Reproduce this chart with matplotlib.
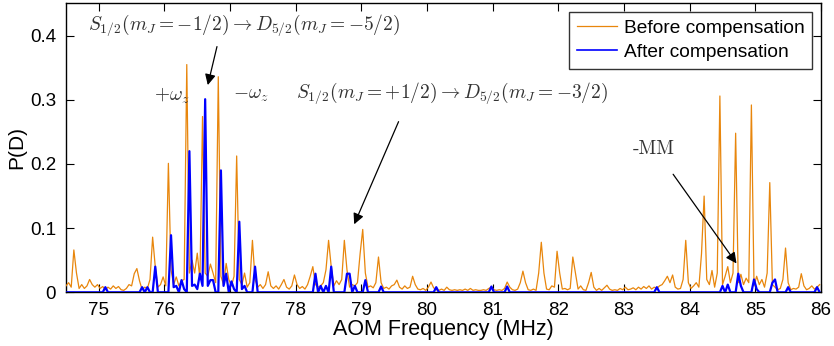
import numpy as np
import matplotlib
matplotlib.use("Agg")
import matplotlib.pyplot as plt

# Scan grid: 74.50 MHz to 85.98 MHz in 0.04 MHz steps (288 points)
f_start, f_step = 74.50, 0.04

# P(D) before compensation, one row per MHz (row starts at X.50)
before_rows = [
    # 74.50 .. 75.46
    [0.010, 0.015, 0.008, 0.066, 0.030, 0.006, 0.012, 0.006, 0.010, 0.020, 0.012, 0.008, 0.012,
     0.006, 0.009, 0.004, 0.008, 0.005, 0.010, 0.006, 0.009, 0.004, 0.003, 0.006, 0.012],
    # 75.50 .. 76.46
    [0.010, 0.029, 0.037, 0.018, 0.004, 0.008, 0.006, 0.020, 0.086, 0.040, 0.008, 0.012, 0.024,
     0.010, 0.201, 0.035, 0.012, 0.024, 0.010, 0.018, 0.020, 0.355, 0.030, 0.050, 0.030],
    # 76.50 .. 77.46
    [0.061, 0.020, 0.274, 0.030, 0.025, 0.044, 0.030, 0.015, 0.336, 0.025, 0.012, 0.045, 0.020,
     0.010, 0.025, 0.2125, 0.020, 0.012, 0.030, 0.008, 0.015, 0.081, 0.020, 0.008, 0.012],
    # 77.50 .. 78.46
    [0.006, 0.012, 0.032, 0.010, 0.006, 0.010, 0.005, 0.012, 0.020, 0.008, 0.005, 0.010, 0.027,
     0.012, 0.006, 0.009, 0.005, 0.012, 0.025, 0.040, 0.012, 0.008, 0.010, 0.015, 0.035],
    # 78.50 .. 79.46
    [0.081, 0.040, 0.010, 0.018, 0.012, 0.020, 0.081, 0.035, 0.008, 0.012, 0.010, 0.015, 0.060,
     0.098, 0.030, 0.008, 0.010, 0.007, 0.015, 0.055, 0.015, 0.006, 0.008, 0.005, 0.010],
    # 79.50 .. 80.46
    [0.012, 0.019, 0.008, 0.005, 0.010, 0.006, 0.008, 0.025, 0.012, 0.005, 0.004, 0.006, 0.003,
     0.008, 0.016, 0.007, 0.004, 0.003, 0.005, 0.003, 0.008, 0.004, 0.003, 0.004, 0.003],
    # 80.50 .. 81.46
    [0.004, 0.003, 0.005, 0.003, 0.006, 0.003, 0.004, 0.003, 0.003, 0.004, 0.003, 0.006, 0.008,
     0.004, 0.003, 0.004, 0.003, 0.006, 0.016, 0.008, 0.004, 0.003, 0.005, 0.015, 0.033],
    # 81.50 .. 82.46
    [0.015, 0.004, 0.003, 0.005, 0.003, 0.030, 0.078, 0.030, 0.005, 0.004, 0.010, 0.008, 0.064,
     0.030, 0.005, 0.006, 0.004, 0.006, 0.055, 0.030, 0.005, 0.010, 0.004, 0.003, 0.015],
    # 82.50 .. 83.46
    [0.031, 0.008, 0.003, 0.006, 0.003, 0.007, 0.011, 0.005, 0.003, 0.004, 0.003, 0.006, 0.004,
     0.008, 0.004, 0.005, 0.007, 0.004, 0.008, 0.005, 0.009, 0.006, 0.010, 0.005, 0.008],
    # 83.50 .. 84.46
    [0.006, 0.010, 0.012, 0.018, 0.025, 0.015, 0.027, 0.008, 0.005, 0.006, 0.020, 0.081, 0.015,
     0.006, 0.010, 0.015, 0.008, 0.060, 0.150, 0.020, 0.012, 0.034, 0.008, 0.030, 0.306],
    # 84.50 .. 85.46
    [0.012, 0.025, 0.040, 0.015, 0.030, 0.248, 0.015, 0.028, 0.012, 0.022, 0.015, 0.292, 0.010,
     0.025, 0.012, 0.020, 0.008, 0.030, 0.171, 0.012, 0.008, 0.004, 0.006, 0.020, 0.069],
    # 85.50 .. 85.98
    [0.015, 0.004, 0.006, 0.005, 0.008, 0.029, 0.010, 0.004, 0.006, 0.010, 0.005, 0.008, 0.012],
]

# P(D) after compensation, same grid
after_rows = [
    [0, 0, 0, 0, 0, 0, 0, 0, 0, 0, 0, 0, 0, 0, 0, 0.008, 0, 0, 0, 0, 0, 0, 0, 0, 0],
    [0, 0, 0, 0, 0.008, 0, 0.008, 0, 0, 0.040, 0, 0, 0, 0, 0, 0.089, 0.008, 0.010, 0, 0.019,
     0.005, 0, 0.220, 0.010, 0.012],
    [0.005, 0.029, 0.010, 0.301, 0.010, 0.019, 0.019, 0, 0, 0.190, 0.010, 0.029, 0, 0.017,
     0.005, 0, 0.110, 0.005, 0.010, 0, 0, 0, 0.040, 0, 0],
    [0, 0, 0, 0, 0, 0, 0, 0, 0, 0, 0, 0, 0, 0, 0, 0, 0, 0, 0, 0, 0.029, 0, 0.010, 0, 0.010],
    [0, 0.040, 0, 0, 0, 0, 0, 0.029, 0.029, 0, 0.010, 0, 0, 0, 0.019, 0, 0, 0, 0, 0, 0.009,
     0, 0, 0, 0],
    [0, 0, 0, 0, 0, 0, 0, 0, 0, 0, 0, 0, 0, 0, 0, 0, 0.008, 0, 0, 0, 0, 0, 0, 0, 0],
    [0, 0, 0, 0, 0, 0, 0, 0, 0, 0, 0, 0, 0.009, 0, 0, 0, 0, 0, 0.009, 0, 0, 0, 0, 0, 0],
    [0, 0, 0, 0, 0, 0, 0, 0, 0, 0, 0, 0, 0, 0, 0, 0, 0, 0, 0, 0, 0, 0, 0, 0, 0],
    [0, 0, 0, 0, 0, 0, 0, 0, 0, 0, 0, 0, 0, 0, 0, 0, 0, 0, 0, 0, 0, 0, 0, 0, 0],
    [0.008, 0, 0, 0, 0, 0, 0, 0, 0, 0, 0, 0, 0, 0, 0, 0, 0, 0, 0, 0, 0, 0, 0, 0, 0],
    [0.010, 0, 0.012, 0, 0, 0, 0.029, 0.010, 0, 0, 0, 0, 0.020, 0.005, 0, 0, 0, 0, 0, 0.015,
     0.020, 0, 0, 0, 0],
    [0.008, 0, 0, 0, 0, 0, 0, 0, 0, 0, 0, 0.008, 0],
]

x_ticks = [75, 76, 77, 78, 79, 80, 81, 82, 83, 84, 85, 86]
y_ticks = [0, 0.1, 0.2, 0.3, 0.4]
y_ticklabels = ["0", "0.1", "0.2", "0.3", "0.4"]

before = np.concatenate([np.array(r, float) for r in before_rows])
after = np.concatenate([np.array(r, float) for r in after_rows])
freq = f_start + f_step * np.arange(len(before))

plt.rcParams['font.family'] = ['Liberation Sans', 'DejaVu Sans']
plt.rcParams['mathtext.fontset'] = 'cm'

fig = plt.figure(figsize=(8.34, 3.46), dpi=100)
ax = fig.add_axes([0.0791, 0.1552, 0.9053, 0.8353])

orange = '#E8860C'
ax.plot(freq, before, color=orange, lw=0.9, label='Before compensation', zorder=3)
ax.plot(freq, after, color='#0000FF', lw=1.6, label='After compensation', zorder=4)

ax.set_xlim(74.5, 86.0)
ax.set_ylim(0, 0.4505)
ax.set_xticks(x_ticks)
ax.set_xticklabels([str(t) for t in x_ticks])
ax.set_yticks(y_ticks)
ax.set_yticklabels(y_ticklabels)
ax.tick_params(direction='in', length=6, width=0.8, top=True, right=True,
               labelsize=13.5, pad=7)
for s in ax.spines.values():
    s.set_linewidth(1.0)
ax.set_xlabel('AOM Frequency (MHz)', fontsize=15.5, labelpad=0)
ax.set_ylabel('P(D)', fontsize=15, labelpad=3)

leg = ax.legend(loc='upper right', fontsize=13.8, frameon=True, fancybox=False,
                edgecolor='black', borderpad=0.4, handlelength=2.1,
                handletextpad=0.35, labelspacing=0.35, borderaxespad=0.45)
leg.get_frame().set_linewidth(1.0)
leg.get_lines()[1].set_linewidth(1.2)

tcol = '#333333'
ax.text(74.83, 0.417, r'$S_{1/2}(m_J=-1/2)\rightarrow D_{5/2}(m_J=-5/2)$',
        fontsize=14, color=tcol, va='center', ha='left')
ax.text(75.84, 0.307, r'$+\omega_z$', fontsize=14, color=tcol, va='center', ha='left')
ax.text(77.05, 0.307, r'$-\omega_z$', fontsize=14, color=tcol, va='center', ha='left')
ax.text(78.0, 0.311, r'$S_{1/2}(m_J=+1/2)\rightarrow D_{5/2}(m_J=-3/2)$',
        fontsize=14, color=tcol, va='center', ha='left')
ax.text(83.13, 0.223, '-MM', fontsize=14, color=tcol, va='center', ha='left',
        family=['cmr10', 'DejaVu Serif'])

ap = dict(arrowstyle='-|>', color='black', lw=0.9, mutation_scale=16, shrinkA=0, shrinkB=0)
ax.annotate('', xy=(76.66, 0.323), xytext=(76.80, 0.383), arrowprops=ap)
ax.annotate('', xy=(78.89, 0.106), xytext=(79.566, 0.266), arrowprops=ap)
ax.annotate('', xy=(84.713, 0.045), xytext=(83.748, 0.184), arrowprops=ap)

fig.savefig('out.png', dpi=100)
